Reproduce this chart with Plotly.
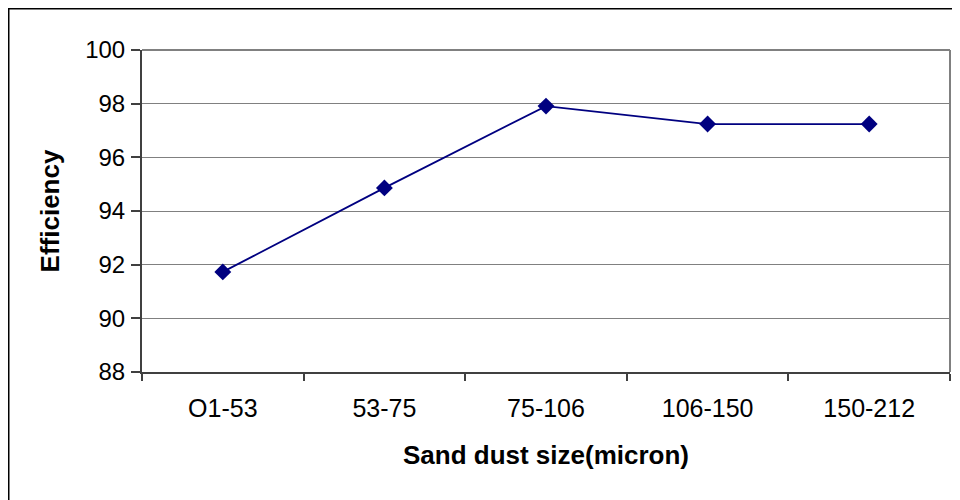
import plotly.graph_objects as go

categories = ["O1-53", "53-75", "75-106", "106-150", "150-212"]
efficiency = [91.73, 94.86, 97.91, 97.24, 97.24]
y_ticks = [88, 90, 92, 94, 96, 98, 100]

FONT = "Liberation Sans, Arial, sans-serif"
OFF = 8  # page body offset
L, R, T, B = 142 - OFF, 10 + OFF, 50 - OFF, 128 + OFF
W, H = 960, 500
pw, ph = W - L - R, H - T - B

fig = go.Figure()
fig.add_trace(go.Scatter(
    x=categories, y=efficiency, mode="lines+markers",
    line=dict(color="#000080", width=1.8),
    marker=dict(symbol="diamond", size=13, color="#000080"),
    showlegend=False, cliponaxis=False,
))

fig.update_layout(
    width=W, height=H,
    margin=dict(l=L, r=R, t=T, b=B, autoexpand=False),
    paper_bgcolor="white", plot_bgcolor="white",
    font=dict(family=FONT, color="black"),
    xaxis=dict(
        type="category", range=[-0.5, 4.5],
        showgrid=False, showline=True, linecolor="#404040", linewidth=2,
        ticks="outside", tickson="boundaries", ticklen=7, tickcolor="#404040", tickwidth=1.5,
        tickfont=dict(size=25), ticklabelstandoff=13,
        title=dict(text="<b>Sand dust size(micron)</b>", font=dict(size=26), standoff=25),
        zeroline=False, fixedrange=True,
    ),
    yaxis=dict(
        range=[88, 100], tickvals=y_ticks,
        showgrid=True, gridcolor="#808080", gridwidth=1.3,
        showline=True, linecolor="#404040", linewidth=2,
        ticks="outside", ticklen=9, tickcolor="#404040", tickwidth=1.5,
        tickfont=dict(size=24), ticklabelstandoff=1,
        title=dict(text="<b>Efficiency</b>", font=dict(size=26), standoff=18),
        zeroline=False, fixedrange=True,
    ),
    shapes=[
        dict(type="line", xref="paper", yref="paper", x0=1, x1=1, y0=0, y1=1,
             line=dict(color="#808080", width=2)),
        dict(type="line", xref="paper", yref="paper", x0=0, x1=1, y0=1, y1=1,
             line=dict(color="#808080", width=2)),
        dict(type="rect", xref="paper", yref="paper",
             x0=(0.75 - L) / pw, x1=(W + 5 - L) / pw,
             y0=(H - B - (H + 5)) / ph, y1=(H - B - 0.75) / ph,
             line=dict(color="black", width=1.5), fillcolor="rgba(0,0,0,0)", layer="below"),
    ],
)

fig.write_html("out.html")
